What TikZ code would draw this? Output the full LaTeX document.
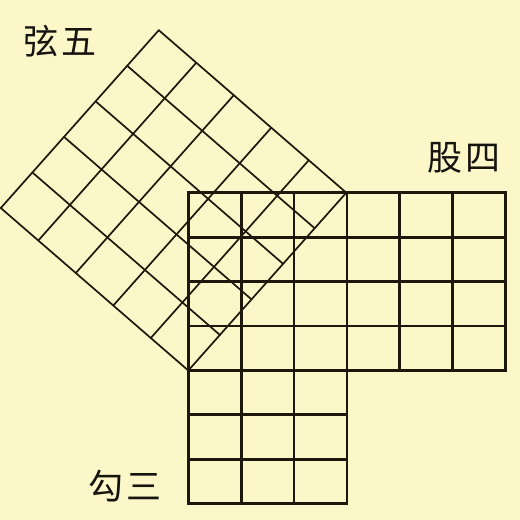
\documentclass[tikz,border=0pt]{standalone}
\usepackage{fontspec}
\usetikzlibrary{calc}
\newfontfamily\cjkfont{Noto Sans CJK SC}
\definecolor{bgyellow}{RGB}{252,247,200}
\definecolor{inkline}{RGB}{30,24,12}
\definecolor{inktext}{RGB}{22,20,16}
\begin{document}
\begin{tikzpicture}[x=1pt,y=-1pt,
  axisgrid/.style={draw=inkline,line width=2.7pt,line cap=rect},
  tiltgrid/.style={draw=inkline,line width=1.7pt,line cap=round},
  label/.style={text=inktext,font=\cjkfont\fontsize{35}{40}\selectfont,inner sep=0pt}]
\fill[bgyellow] (0,0) rectangle (520,520);
\useasboundingbox (0,0) rectangle (520,520);
% tilted 5x5 square on the hypotenuse
\coordinate (A) at (188.3,370.5);
\coordinate (B) at (346.3,192.7);
\coordinate (D) at (0.8,208.0);
\coordinate (C) at (158.8,30.2);
\foreach \i in {0,...,5}{
  \draw[tiltgrid] ($(A)!\i/5!(B)$) -- ($(D)!\i/5!(C)$);
  \draw[tiltgrid] ($(A)!\i/5!(D)$) -- ($(B)!\i/5!(C)$);
}
% upper 6x4 grid
\foreach \j in {0,...,4}{
  \draw[axisgrid] (188.3,192.7+44.45*\j) -- (505.5,192.7+44.45*\j);
}
\foreach \i in {0,...,6}{
  \draw[axisgrid] (188.3+52.87*\i,192.7) -- (188.3+52.87*\i,370.5);
}
% lower 3x3 grid
\foreach \j in {1,...,3}{
  \draw[axisgrid] (188.3,370.5+44.33*\j) -- (346.9,370.5+44.33*\j);
}
\foreach \i in {0,...,3}{
  \draw[axisgrid] (188.3+52.87*\i,370.5) -- (188.3+52.87*\i,503.5);
}
% labels
\node[label] (xian) at (60,41) {弦\hspace{0.1em}五};
\node[label] (gu) at (464,157.5) {股\hspace{0.1em}四};
\node[label] (gou) at (125,486.5) {勾\hspace{0.1em}三};
\end{tikzpicture}
\end{document}
